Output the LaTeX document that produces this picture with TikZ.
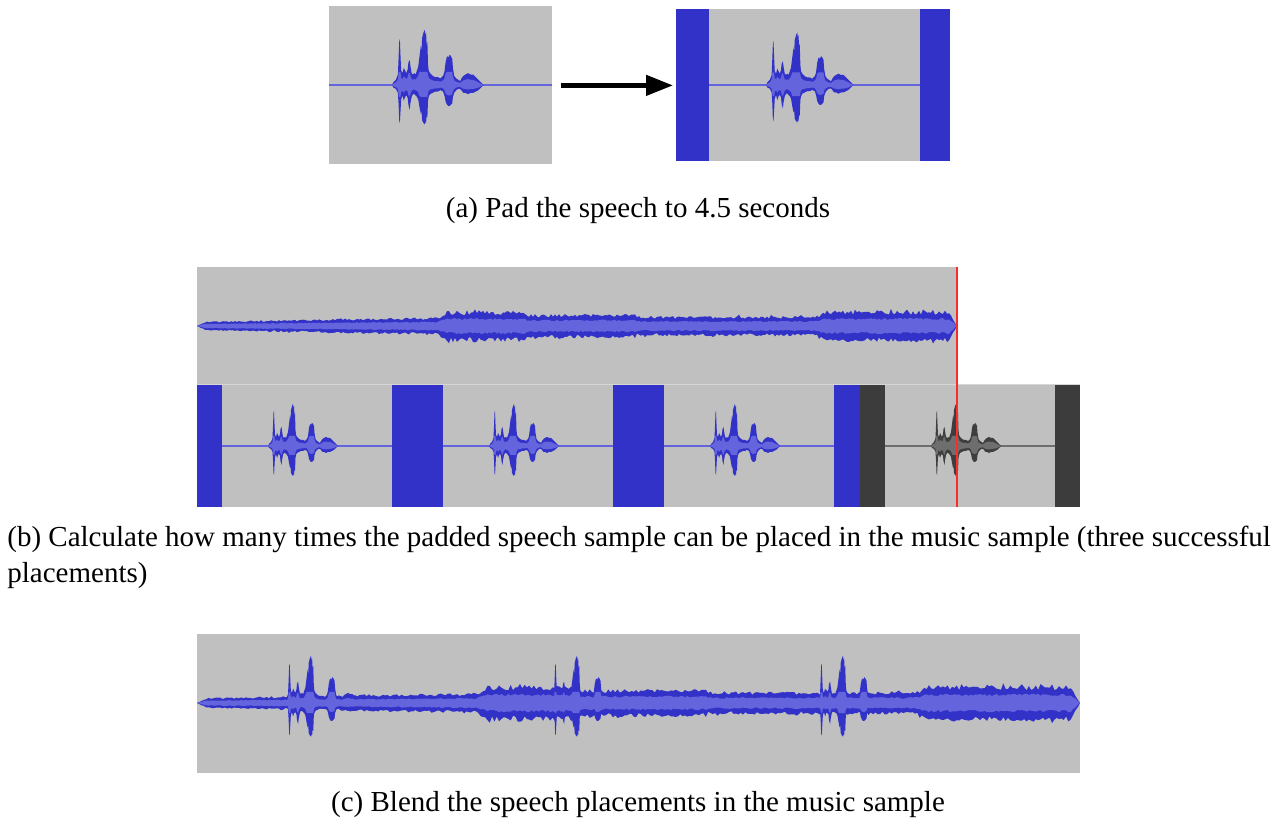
\documentclass[tikz,border=0pt]{standalone}
\usepackage{fontspec}
\setmainfont{Liberation Serif}
\usetikzlibrary{arrows.meta}

\definecolor{trackbg}{HTML}{C0C0C0}
\definecolor{wavedark}{HTML}{3232C8}
\definecolor{wavelight}{HTML}{6464DC}
\definecolor{padblue}{HTML}{3232C8}
\definecolor{padgray}{HTML}{3C3C3C}
\definecolor{greydark}{HTML}{3E3E3E}
\definecolor{greylight}{HTML}{6E6E6E}
\definecolor{cursorred}{HTML}{FF2A2A}
\definecolor{trackedge}{HTML}{D6D6D6}

% envelope of one spoken utterance: offset / peak above / peak below
\def\speechdata{0/0/0, 1/2/2, 3/4/3, 4.5/8/6, 5/20/14, 5.5/33/27, 6/35/29, 6.5/22/20,
  7/11/11, 8/9/8, 9/13/12, 10/11/9, 11/9/8, 12/12/10, 12.5/17/15, 13.5/19/19,
  14/15/14, 15/9/9, 16/8/7, 17/9/7, 18/8/8, 19/11/9, 20/14/11, 21/22/17,
  22/30/22, 22.5/26/20, 23/36/27, 24/40/29, 25/42/30, 25.5/38/28, 26/40/29,
  26.5/30/23, 27/33/25, 27.5/16/12, 28/11/9, 29/9/7, 31/7/6, 33/6/5, 35/6/5,
  37/5/4, 39/7/5, 40/10/8, 41/18/13, 42/22/15, 43/21/16, 44/23/16, 45/22/15,
  46/20/14, 46.5/13/9, 47.5/7/6, 49/5/4, 50.5/4/3, 52/3/3, 53/5/4, 54.5/7/6,
  56/8/6, 58/9/7, 60/8/6, 62/8/6, 64/6/5, 66/4/4, 68/2/2, 70/0/0}

% #1 start x, #2 centre y, #3 scale, #4 colour
\newcommand{\speechouter}[4]{%
  \begin{scope}[shift={(#1,#2)},scale=#3]
    \fill[#4] (0,0) foreach \sx/\su/\sl in \speechdata {-- (\sx,-\su)} -- cycle;
    \fill[#4] (0,0) foreach \sx/\su/\sl in \speechdata {-- (\sx,\sl)} -- cycle;
  \end{scope}}
\newcommand{\speechinner}[4]{%
  \begin{scope}[shift={(#1,#2)},scale=#3]
    \fill[#4] (0,0) foreach \sx/\su/\sl in \speechdata {-- (\sx,{-min(0.5*\su,10)})} -- cycle;
    \fill[#4] (0,0) foreach \sx/\su/\sl in \speechdata {-- (\sx,{min(0.5*\sl,9)})} -- cycle;
  \end{scope}}

% music track: #1 start x, #2 centre y, #3 x-scale, #4 y-scale
\newcommand{\musicouter}[4]{%
  \begin{scope}[shift={(#1,#2)},xscale=#3,yscale=#4]
    \pgfmathsetseed{4242}
    \fill[wavedark] (0,0) foreach \mx in {0,2,...,760}
      {-- (\mx,{-menv(\mx)*(0.78+0.3*rnd+0.3*rnd*rnd*rnd)})} -- (760,0) -- cycle;
    \fill[wavedark] (0,0) foreach \mx in {0,2,...,760}
      {-- (\mx,{menv(\mx)*(0.8+0.3*rnd+0.3*rnd*rnd*rnd)})} -- (760,0) -- cycle;
  \end{scope}}
\newcommand{\musicinner}[4]{%
  \begin{scope}[shift={(#1,#2)},xscale=#3,yscale=#4]
    \pgfmathsetseed{977}
    \fill[wavelight] (0,0) foreach \mx in {0,2,...,760}
      {-- (\mx,{-menv(\mx)*0.5*(0.85+0.3*rnd)})} -- (760,0) -- cycle;
    \fill[wavelight] (0,0) foreach \mx in {0,2,...,760}
      {-- (\mx,{menv(\mx)*0.5*(0.85+0.3*rnd)})} -- (760,0) -- cycle;
  \end{scope}}

\begin{document}
\begin{tikzpicture}[x=0.5pt,y=-0.5pt,
  declare function={menv(\t)=(\t<8)?(0.5*\t):((\t<240)?(4+\t/60):((\t<250)?(8+0.6*(\t-240)):((\t<330)?14:((\t<440)?11:((\t<618)?9:((\t<630)?(9+0.45*(\t-618)):((\t<752)?14:(1.75*(760-\t)))))))));},
  clip/.style={fill=trackbg, inner sep=0pt, anchor=north west},
  centreline/.style={wavelight, line width=0.75pt},
  greyline/.style={greylight, line width=0.75pt},
  caption/.style={inner sep=0pt, font=\fontsize{14.5}{18}\selectfont}]
\useasboundingbox (0,0) rectangle (1282,823);

% ---------- (a) raw speech and padded speech ----------
\node[clip, minimum width=111.5pt, minimum height=79pt] (rawclip) at (329,6) {};
\node[clip, minimum width=137pt, minimum height=76pt] (padclip) at (676,9) {};
\draw[centreline] (329,85) -- (552,85);
\speechouter{392}{85}{1.31}{wavedark}
\speechinner{392}{85}{1.31}{wavelight}

\fill[padblue] (676,9) rectangle (709,161);
\fill[padblue] (920,9) rectangle (950,161);
\draw[centreline] (709,85) -- (920,85);
\speechouter{766}{85}{1.25}{wavedark}
\speechinner{766}{85}{1.25}{wavelight}

\draw[-{Triangle[length=13.5pt,width=10pt]}, line width=2.2pt,
  shorten <=4pt, shorten >=1.5pt] (rawclip.east) -- (padclip.west);

\node[caption, anchor=base] (capA) at (638,218) {(a) Pad the speech to 4.5 seconds};

% ---------- (b) music track and repeated padded speech ----------
\fill[trackbg] (197,267) rectangle (957,384);
\musicouter{197}{326}{1}{1}
\musicinner{197}{326}{1}{1}

\fill[trackbg] (197,385) rectangle (1080,507);
\draw[trackedge, line width=0.5pt] (197,384.5) -- (1080,384.5);
\foreach \bx/\ex in {197/222, 392/443, 613/664, 834/860}
  {\fill[padblue] (\bx,385) rectangle (\ex,507);}
\foreach \bx/\ex in {860/885, 1055/1080}
  {\fill[padgray] (\bx,385) rectangle (\ex,507);}
\foreach \bx/\ex in {222/392, 443/613, 664/834}
  {\draw[centreline] (\bx,446) -- (\ex,446);}
\draw[greyline] (885,446) -- (1055,446);
\foreach \spx in {268, 489, 710} {%
  \speechouter{\spx}{446}{1}{wavedark}%
  \speechinner{\spx}{446}{1}{wavelight}%
}
\speechouter{931}{446}{1}{greydark}
\speechinner{931}{446}{1}{greylight}

\draw[cursorred, line width=1pt] (957,267) -- (957,507);

\node[caption, anchor=base west] (capB1) at (7,547)
  {(b) Calculate how many times the padded speech sample can be placed in the music sample (three successful};
\node[caption, anchor=base west] (capB2) at (7,583) {placements)};

% ---------- (c) blended result ----------
\fill[trackbg] (197,634) rectangle (1080,773);
\musicouter{197}{703}{1.1618}{1.15}
\foreach \spx in {283, 549, 815} {\speechouter{\spx}{703}{1.12}{wavedark}}
\musicinner{197}{703}{1.1618}{1.15}
\foreach \spx in {283, 549, 815} {\speechinner{\spx}{703}{1.12}{wavelight}}

\node[caption, anchor=base] (capC) at (638,812) {(c) Blend the speech placements in the music sample};
\end{tikzpicture}
\end{document}
